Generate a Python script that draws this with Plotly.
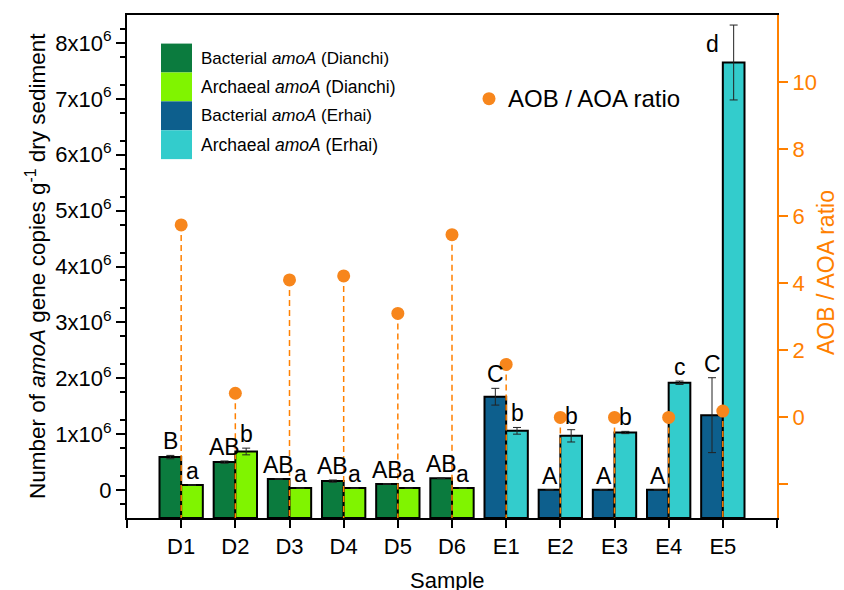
import plotly.graph_objects as go

# ---------------- data ----------------
samples = ["D1", "D2", "D3", "D4", "D5", "D6", "E1", "E2", "E3", "E4", "E5"]
dianchi = ["D1", "D2", "D3", "D4", "D5", "D6"]
erhai = ["E1", "E2", "E3", "E4", "E5"]

bact_dianchi = [0.59e6, 0.50e6, 0.20e6, 0.16e6, 0.11e6, 0.21e6]
bact_dianchi_err = [0.03e6, 0.02e6, 0.005e6, 0.02e6, 0.005e6, 0.005e6]
arch_dianchi = [0.09e6, 0.69e6, 0.035e6, 0.035e6, 0.035e6, 0.035e6]
arch_dianchi_err = [0.0, 0.06e6, 0.0, 0.0, 0.0, 0.0]

bact_erhai = [1.67e6, 0.005e6, 0.005e6, 0.005e6, 1.34e6]
bact_erhai_err = [0.15e6, 0.0, 0.0, 0.0, 0.67e6]
arch_erhai = [1.06e6, 0.97e6, 1.03e6, 1.92e6, 7.65e6]
arch_erhai_err = [0.06e6, 0.11e6, 0.02e6, 0.03e6, 0.67e6]

ratio = [5.74, 0.72, 4.10, 4.22, 3.10, 5.45, 1.58, 0.0, 0.0, 0.0, 0.19]

letters_bact_dianchi = ["B", "AB", "AB", "AB", "AB", "AB"]
letters_arch_dianchi = ["a", "b", "a", "a", "a", "a"]
letters_bact_erhai = ["C", "A", "A", "A", "C"]
letters_arch_erhai = ["b", "b", "b", "c", "d"]

left_tick_vals = [0, 1e6, 2e6, 3e6, 4e6, 5e6, 6e6, 7e6, 8e6]
left_tick_text = ["0"] + [f"{k}x10<sup>6</sup>" for k in range(1, 9)]
right_tick_vals = [-2, 0, 2, 4, 6, 8, 10]
right_tick_text = ["", "0", "2", "4", "6", "8", "10"]

# ---------------- style ----------------
C_BD = "#0b7b3e"
C_AD = "#80f400"
C_BE = "#0d5f8d"
C_AE = "#33cccc"
ORANGE = "#FF8000"
DOT = "#F7861C"
FONT = "Arial, Liberation Sans, sans-serif"

Y_MIN, Y_MAX = -0.5e6, 8.5e6
Y2_MIN, Y2_MAX = -3, 12
X_MIN, X_MAX = 0, 12
BAR_W = 0.4

OFF = 8  # page body margin
W, H = 844 - OFF, 590 - OFF
ML, MR, MT, MB = 127 - OFF, 67, 13 - OFF, 72
PW, PH = W - ML - MR, H - MT - MB


def px(xp):
    return (xp - OFF - ML) / PW


def py(yp):
    return (H - MB - (yp - OFF)) / PH


pos = {s: i + 1 for i, s in enumerate(samples)}

fig = go.Figure()


def add_bars(names, vals, errs, color, shift):
    xs = [pos[n] + shift for n in names]
    fig.add_trace(go.Bar(
        x=xs, y=[v - Y_MIN for v in vals], base=Y_MIN, width=BAR_W,
        marker=dict(color=color, line=dict(color="black", width=2)),
        error_y=dict(type="data", array=errs, visible=True, color="#222222",
                     thickness=1, width=4),
        showlegend=False, hoverinfo="skip",
    ))


add_bars(dianchi, bact_dianchi, bact_dianchi_err, C_BD, -BAR_W / 2)
add_bars(dianchi, arch_dianchi, arch_dianchi_err, C_AD, BAR_W / 2)
add_bars(erhai, bact_erhai, bact_erhai_err, C_BE, -BAR_W / 2)
add_bars(erhai, arch_erhai, arch_erhai_err, C_AE, BAR_W / 2)

# drop lines and ratio points
lx, ly = [], []
for s, r in zip(samples, ratio):
    lx += [pos[s], pos[s], None]
    ly += [r, Y2_MIN, None]
fig.add_trace(go.Scatter(x=lx, y=ly, yaxis="y2", mode="lines",
                         line=dict(color=ORANGE, width=1.5, dash="6px,4px"),
                         showlegend=False, hoverinfo="skip"))
fig.add_trace(go.Scatter(x=[pos[s] for s in samples], y=ratio, yaxis="y2",
                         mode="markers", marker=dict(color=DOT, size=13),
                         showlegend=False))

# letters
ann = []


def add_letters(names, vals, errs, letters, shift):
    for n, v, e, t in zip(names, vals, errs, letters):
        x = pos[n] + shift
        y = v + e
        ys = -1
        if t == "d":
            x = pos[n] - BAR_W / 2
            y = v
            ys = 4
        ann.append(dict(x=x, y=y, xref="x", yref="y", text=t, showarrow=False,
                        yanchor="bottom", xanchor="center", yshift=ys,
                        font=dict(family=FONT, size=23, color="black")))


add_letters(dianchi, bact_dianchi, bact_dianchi_err, letters_bact_dianchi, -BAR_W / 2)
add_letters(dianchi, arch_dianchi, arch_dianchi_err, letters_arch_dianchi, BAR_W / 2)
add_letters(erhai, bact_erhai, bact_erhai_err, letters_bact_erhai, -BAR_W / 2)
add_letters(erhai, arch_erhai, arch_erhai_err, letters_arch_erhai, BAR_W / 2)

# legend (drawn)
shapes = []
leg_items = [("Bacterial <i>amoA</i> (Dianchi)", C_BD, 17),
             ("Archaeal <i>amoA</i> (Dianchi)", C_AD, 17.5),
             ("Bacterial <i>amoA</i> (Erhai)", C_BE, 17),
             ("Archaeal <i>amoA</i> (Erhai)", C_AE, 17.5)]
top = 41.7
step = 29.0
for k, (txt, col, fs) in enumerate(leg_items):
    y0 = top + k * step
    shapes.append(dict(type="rect", xref="paper", yref="paper",
                       x0=px(161), x1=px(192), y0=py(y0 + step), y1=py(y0),
                       fillcolor=col, line=dict(width=0)))
    ann.append(dict(x=px(199), y=py(y0 + step / 2), xref="paper", yref="paper",
                    text=txt, showarrow=False, xanchor="left", yanchor="middle",
                    font=dict(family=FONT, size=fs, color="black")))

shapes.append(dict(type="circle", xref="paper", yref="paper",
                   x0=px(489 - 6.5), x1=px(489 + 6.5), y0=py(97 + 6.5), y1=py(97 - 6.5),
                   fillcolor=DOT, line=dict(width=0)))
ann.append(dict(x=px(506), y=py(97), xref="paper", yref="paper",
                text="AOB / AOA ratio", showarrow=False, xanchor="left", yanchor="middle",
                font=dict(family=FONT, size=24, color="black")))

# axis titles
ann.append(dict(x=px(36), y=py(265), xref="paper", yref="paper",
                text="Number of <i>amoA</i> gene copies g<sup>-1</sup> dry sediment",
                showarrow=False, textangle=-90, xanchor="center", yanchor="middle",
                font=dict(family=FONT, size=22.5, color="black")))
ann.append(dict(x=px(826), y=py(272), xref="paper", yref="paper",
                text="AOB / AOA ratio", showarrow=False, textangle=-90,
                xanchor="center", yanchor="middle",
                font=dict(family=FONT, size=23, color=ORANGE)))
ann.append(dict(x=px(447), y=py(581), xref="paper", yref="paper",
                text="Sample", showarrow=False, xanchor="center", yanchor="middle",
                font=dict(family=FONT, size=22, color="black")))

fig.update_layout(
    width=W, height=H,
    margin=dict(l=ML, r=MR, t=MT, b=MB),
    paper_bgcolor="white", plot_bgcolor="white",
    font=dict(family=FONT, size=20, color="black"),
    barmode="overlay",
    showlegend=False,
    xaxis=dict(range=[X_MIN, X_MAX], tickmode="array",
               tickvals=list(range(X_MIN, X_MAX + 1)),
               ticktext=[""] + samples + [""],
               ticks="outside", ticklen=8, tickwidth=2, tickcolor="black",
               showline=True, linecolor="black", linewidth=2, mirror=True,
               showgrid=False, zeroline=False,
               tickfont=dict(family=FONT, size=22, color="black")),
    yaxis=dict(range=[Y_MIN, Y_MAX], tickmode="array",
               tickvals=left_tick_vals, ticktext=left_tick_text,
               ticks="outside", ticklen=9, tickwidth=2, tickcolor="black",
               minor=dict(tickvals=[(2 * k + 1) * 2.5e5 for k in range(-1, 17)],
                          ticks="outside", ticklen=5, tickwidth=2, tickcolor="black"),
               showline=True, linecolor="black", linewidth=2,
               showgrid=False, zeroline=False,
               tickfont=dict(family=FONT, size=22, color="black")),
    yaxis2=dict(range=[Y2_MIN, Y2_MAX], overlaying="y", side="right",
                tickmode="array", tickvals=right_tick_vals, ticktext=right_tick_text,
                ticks="outside", ticklen=9, tickwidth=2, tickcolor=ORANGE,
                showline=True, linecolor=ORANGE, linewidth=2,
                showgrid=False, zeroline=False,
                tickfont=dict(family=FONT, size=22, color=ORANGE)),
    annotations=ann,
    shapes=shapes,
)

fig.write_html("out.html")
